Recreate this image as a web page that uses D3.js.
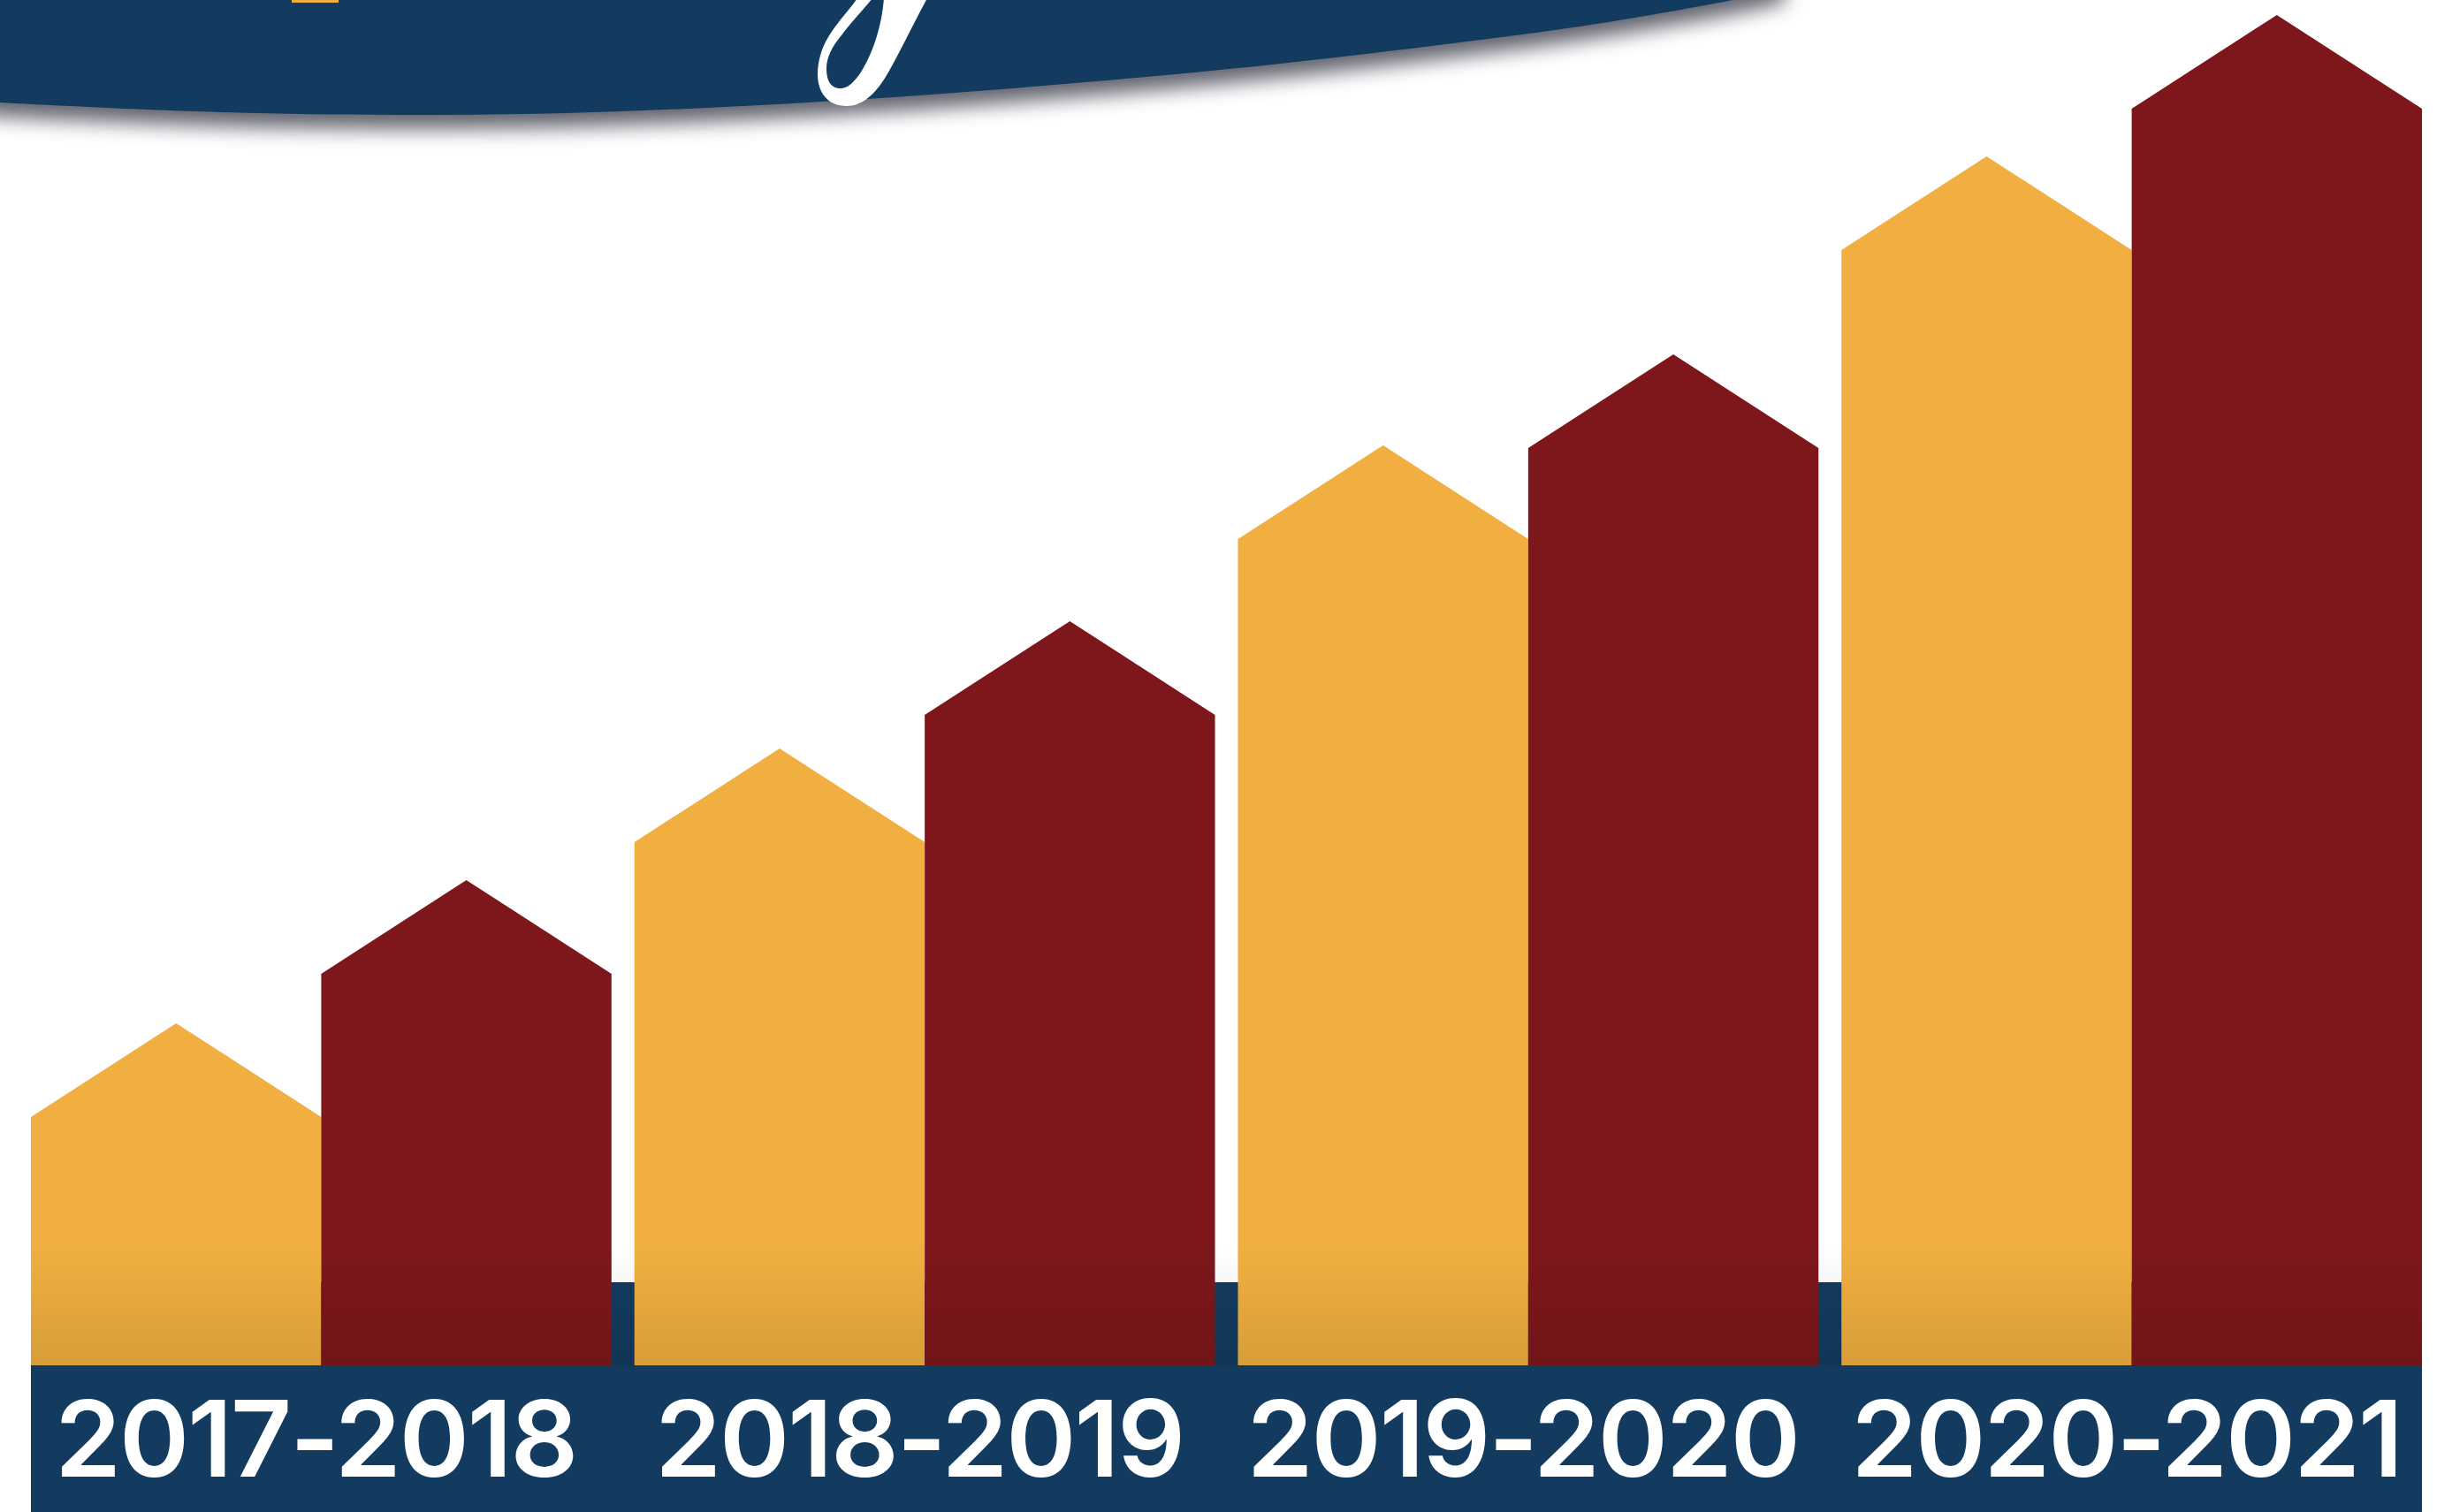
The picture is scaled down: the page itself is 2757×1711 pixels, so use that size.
<!DOCTYPE html>
<html>
<head>
<meta charset="utf-8">
<script src="https://cdn.jsdelivr.net/npm/d3@7"></script>
<style>
  html, body { margin: 0; padding: 0; background: #fff; overflow: hidden; }
</style>
</head>
<body>
<svg id="chart"></svg>
<script>
'use strict';

var W = 2757, H = 1711;

// data (no axis, so units are the bar heights)
var seasons = ['2017-2018', '2018-2019', '2019-2020', '2020-2021'];
var seriesKeys = ['gold', 'maroon'];
var goldValues = [281, 592, 935, 1262];
var maroonValues = [443, 736, 1038, 1422];

var colors = { gold: '#f0af40', maroon: '#7d171b' };
var navy = '#133b5f';

var svg = d3.select('#chart').attr('width', W).attr('height', H);
var defs = svg.append('defs');

defs.append('filter')
    .attr('id', 'blur')
    .attr('x', '-10%').attr('y', '-50%').attr('width', '120%').attr('height', '200%')
  .append('feGaussianBlur')
    .attr('stdDeviation', 11);

var shade = defs.append('linearGradient')
    .attr('id', 'shade')
    .attr('x1', 0).attr('y1', 0).attr('x2', 0).attr('y2', 1);
shade.append('stop').attr('offset', '0%').attr('stop-color', '#000').attr('stop-opacity', 0);
shade.append('stop').attr('offset', '100%').attr('stop-color', '#000').attr('stop-opacity', 0.1);

// header banner (curved navy shape running off the top)
var edge = [[-20, 114], [0, 116], [220, 126], [440, 130], [640, 128], [840, 120], [1040, 108],
            [1240, 92], [1440, 73], [1620, 52], [1800, 28], [1960, 0], [2020, -14]];
var edgeLine = d3.line().curve(d3.curveNatural);
var bannerPath = edgeLine(edge) + 'L2020,-40L-20,-40Z';

svg.append('path')
    .attr('d', bannerPath)
    .attr('transform', 'translate(0,16)')
    .attr('fill', '#4c4c5a')
    .attr('opacity', 0.85)
    .attr('filter', 'url(#blur)');

svg.append('path')
    .attr('d', bannerPath)
    .attr('fill', navy);

// bits of the cut-off title
svg.append('rect')
    .attr('x', 330).attr('y', -2)
    .attr('width', 53).attr('height', 5)
    .attr('fill', colors.gold);

svg.append('path')
    .attr('fill', '#fff')
    .attr('fill-rule', 'evenodd')
    .attr('d', 'M970,-2 C960,12 945,28 937,42 C929,55 925,70 925,84 C925,104 936,120 958,120 ' +
               'C978,120 994,102 1006,80 C1020,55 1036,22 1049,-2 Z ' +
               'M1000,-2 C998,25 990,55 975,80 C966,94 958,101 949,100 C939,99 935,90 935,78 ' +
               'C935,64 942,52 952,40 C962,26 976,12 987,-2 Z');

// chart
var baseY = 1545;
var x0 = d3.scaleBand().domain(seasons).range([35, 2740]).paddingInner(0.038);
var x1 = d3.scaleBand().domain(seriesKeys).range([0, x0.bandwidth()]);
var y = d3.scaleLinear().domain([0, 1500]).range([baseY, 45]);

// navy strip behind the bar bases
svg.append('rect')
    .attr('x', x0.range()[0]).attr('y', 1451)
    .attr('width', x0.range()[1] - x0.range()[0]).attr('height', baseY - 1451)
    .attr('fill', navy);

var rows = seasons.map(function(s, i) {
  return { season: s, gold: goldValues[i], maroon: maroonValues[i] };
});

var groups = svg.selectAll('g.season')
    .data(rows)
  .enter().append('g')
    .attr('class', 'season')
    .attr('transform', function(d) { return 'translate(' + x0(d.season) + ',0)'; });

groups.selectAll('path')
    .data(function(d) { return seriesKeys.map(function(k) { return { key: k, value: d[k] }; }); })
  .enter().append('path')
    .attr('fill', function(d) { return colors[d.key]; })
    .attr('d', function(d) {
      var bx = x1(d.key), bw = x1.bandwidth(), top = y(d.value), roof = bw * 0.323;
      return 'M' + bx + ',' + baseY + 'V' + top + 'L' + (bx + bw / 2) + ',' + (top - roof) +
             'L' + (bx + bw) + ',' + top + 'V' + baseY + 'Z';
    });

// soft darkening toward the base
svg.append('rect')
    .attr('x', x0.range()[0]).attr('y', 1410)
    .attr('width', x0.range()[1] - x0.range()[0]).attr('height', baseY - 1410)
    .attr('fill', 'url(#shade)');

// label band
svg.append('rect')
    .attr('x', x0.range()[0]).attr('y', baseY)
    .attr('width', x0.range()[1] - x0.range()[0]).attr('height', H - baseY + 5)
    .attr('fill', navy);

svg.selectAll('text.season')
    .data(seasons)
  .enter().append('text')
    .attr('class', 'season')
    .attr('x', function(d) { return x0(d) + x0.bandwidth() / 2 - 6; })
    .attr('y', 1671)
    .attr('text-anchor', 'middle')
    .style('fill', '#fff')
    .style('font-family', 'Inter, "Open Sans", sans-serif')
    .style('font-weight', '600')
    .style('font-size', '120px')
    .style('letter-spacing', '-2px')
    .text(function(d) { return d; });
</script>
</body>
</html>
